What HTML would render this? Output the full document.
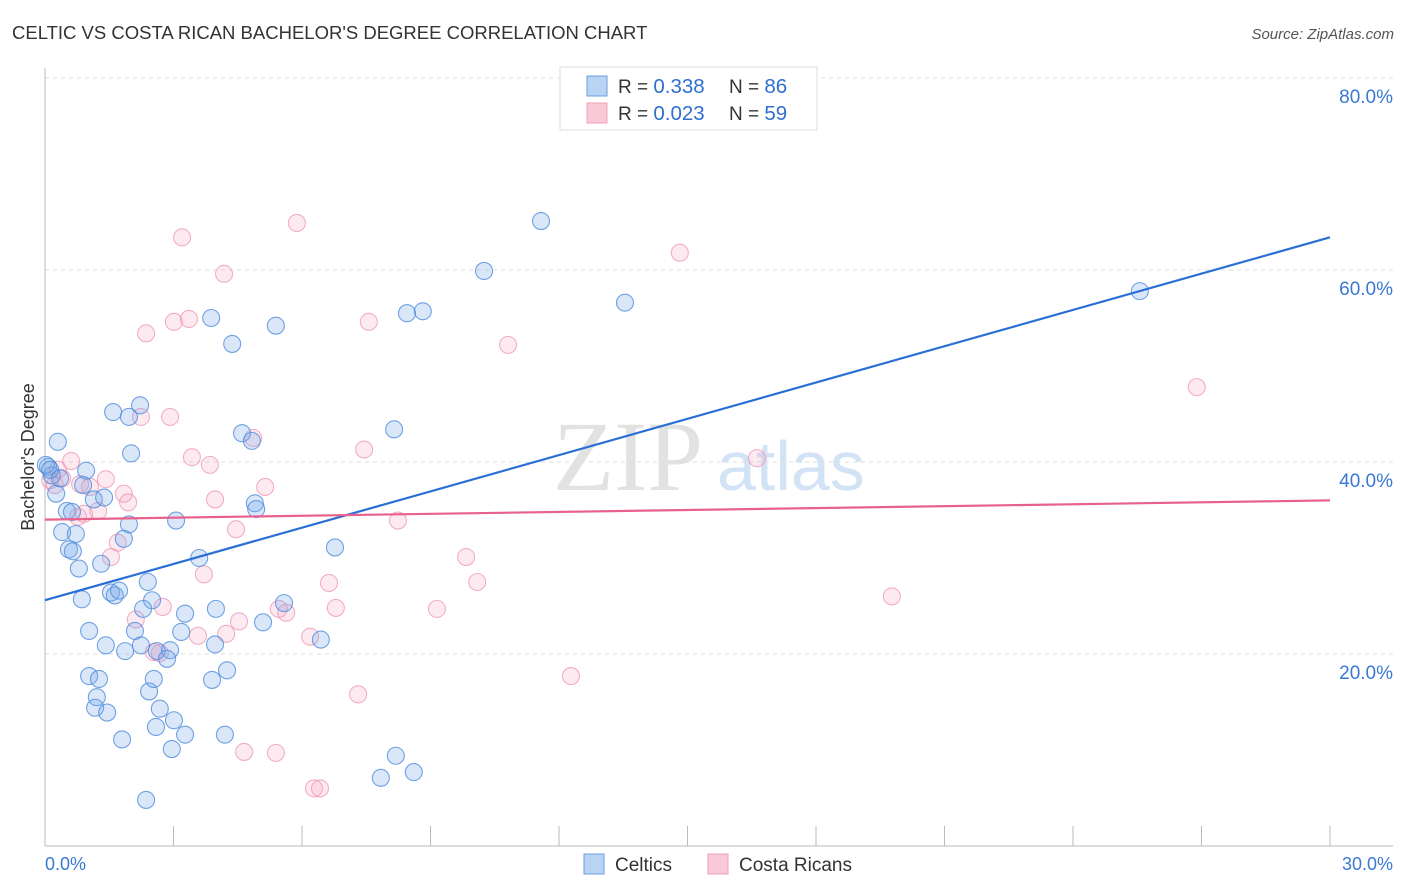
<!DOCTYPE html>
<html><head><meta charset="utf-8"><style>
body{margin:0;background:#fff;font-family:"Liberation Sans",sans-serif}
svg{display:block}
</style></head><body>
<svg id="chart" width="1406" height="892">
<text x="12" y="39" font-size="18.5" fill="#333">CELTIC VS COSTA RICAN BACHELOR'S DEGREE CORRELATION CHART</text>
<text x="1394" y="39" font-size="15" fill="#555" font-style="italic" text-anchor="end">Source: ZipAtlas.com</text>
<text x="553" y="490" font-size="100" fill="#e2e2e2" font-family="Liberation Serif,serif">ZIP</text>
<text x="717" y="490" font-size="70" fill="#d3e3f6">atlas</text>
<g id="grid"></g>
<g id="axes"></g>
<g id="points"></g>
<g id="lines"></g>
<text transform="translate(34,457) rotate(-90)" font-size="18" fill="#333" text-anchor="middle">Bachelor's Degree</text>
<text x="45" y="870" font-size="18" fill="#3a78d4">0.0%</text>
<text x="1393" y="870" font-size="18" fill="#3a78d4" text-anchor="end">30.0%</text>
<g>
<rect x="560" y="67" width="257" height="63" fill="#fff" stroke="#ddd"/>
<rect x="587" y="76" width="20" height="20" fill="#b9d3f5" stroke="#6a9fe2"/>
<rect x="587" y="103" width="20" height="20" fill="#f9c9d8" stroke="#f0a0b8"/>
<text x="618" y="93" font-size="19" fill="#333">R = <tspan fill="#2f6fd0" font-size="20.5">0.338</tspan><tspan x="729">N = </tspan><tspan fill="#2f6fd0" font-size="20.5">86</tspan></text>
<text x="618" y="120" font-size="19" fill="#333">R = <tspan fill="#2f6fd0" font-size="20.5">0.023</tspan><tspan x="729">N = </tspan><tspan fill="#2f6fd0" font-size="20.5">59</tspan></text>
</g>
<g>
<rect x="584" y="854" width="20" height="20" fill="#b9d3f5" stroke="#6a9fe2"/>
<text x="615" y="871" font-size="19" fill="#333">Celtics</text>
<rect x="708" y="854" width="20" height="20" fill="#f9c9d8" stroke="#f0a0b8"/>
<text x="739" y="871" font-size="19" fill="#333">Costa Ricans</text>
</g>
</svg>
<script>
const yTicks=[20,40,60,80];
const yTickLabels=["20.0%","40.0%","60.0%","80.0%"];
const xTicks=[3,6,9,12,15,18,21,24,27,30];
const celticX=[11.58,10.25,25.56,13.54,8.82,8.45,3.88,5.39,4.37,2.22,1.59,1.96,4.60,4.83,8.15,0.30,2.01,0.96,0.07,0.16,0.26,0.89,1.14,1.38,0.51,0.63,0.40,0.72,1.96,3.06,1.84,0.56,0.65,1.31,0.79,3.60,6.77,4.90,4.93,0.86,1.54,1.63,1.73,2.40,2.50,2.29,3.27,3.99,5.58,5.09,1.03,1.42,2.10,3.18,1.87,2.24,2.61,2.92,2.85,3.97,6.44,4.25,3.90,1.03,1.26,1.21,1.17,1.45,2.43,2.54,2.68,3.01,2.59,3.27,1.80,2.96,4.20,8.19,7.84,8.61,2.36,0.02,0.12,0.35];
const celticY=[65.1,59.9,57.8,56.6,55.7,55.5,55.0,54.2,52.3,45.9,45.2,44.7,43.0,42.2,43.4,42.1,40.9,39.1,39.5,38.6,36.7,37.6,36.1,36.3,34.9,34.8,32.7,32.5,33.5,33.9,32.0,30.9,30.7,29.4,28.9,30.0,31.1,35.7,35.1,25.7,26.4,26.1,26.6,27.5,25.6,24.7,24.2,24.7,25.3,23.3,22.4,20.9,22.4,22.3,20.3,20.9,20.3,20.4,19.5,21.0,21.5,18.3,17.3,17.7,17.4,15.5,14.4,13.9,16.1,17.4,14.3,13.1,12.4,11.6,11.1,10.1,11.6,9.4,7.1,7.7,4.8,39.7,39.2,38.3];
const costaX=[5.88,3.20,14.82,4.18,3.36,3.01,2.36,7.56,10.81,26.89,2.92,2.24,4.86,7.45,3.43,3.85,16.62,0.61,0.30,1.42,0.40,0.12,0.23,0.82,1.05,5.14,1.84,1.94,3.97,1.24,0.91,0.77,8.24,4.46,1.70,1.54,9.83,3.71,6.63,10.09,2.75,2.12,5.46,5.63,6.79,9.15,19.77,3.57,4.23,4.53,6.19,2.54,2.68,12.28,7.31,4.65,5.39,6.28,6.42];
const costaY=[64.9,63.4,61.8,59.6,54.9,54.6,53.4,54.6,52.2,47.8,44.7,44.7,42.5,41.3,40.5,39.7,40.4,40.1,39.2,38.2,38.3,38.1,37.6,37.7,37.4,37.4,36.7,35.8,36.1,34.9,34.6,34.3,33.9,33.0,31.6,30.1,30.1,28.3,27.4,27.5,24.9,23.6,24.7,24.3,24.8,24.7,26.0,21.9,22.1,23.4,21.8,20.2,20.1,17.7,15.8,9.8,9.7,6.0,6.0];
const celticTrend=[25.6,63.4];
const costaTrend=[34.0,36.0];
const trendX=[0,30];

const NS="http://www.w3.org/2000/svg";
const X0=45,X1=1330,Y0=846,PPY=9.6;
function sx(v){return X0+(X1-X0)*v/30;}
function sy(v){return Y0-v*PPY;}
function mk(tag,attrs,parent){const e=document.createElementNS(NS,tag);for(const k in attrs)e.setAttribute(k,attrs[k]);parent.appendChild(e);return e;}
const grid=document.getElementById('grid'),axes=document.getElementById('axes'),pts=document.getElementById('points'),lines=document.getElementById('lines');
yTicks.forEach((t,i)=>{
 const l=mk('line',{x1:X0,x2:1393,y1:sy(t),y2:sy(t),stroke:'#ddd','stroke-dasharray':'4,4'},grid);
 
 
 const tx=mk('text',{x:1393,y:sy(t)+25,'font-size':19,fill:'#3a78d4','text-anchor':'end'},grid);
 tx.textContent=yTickLabels[i];
 
 
});
const ya=mk('line',{x1:X0,x2:X0,y1:68,y2:Y0,stroke:'#bbb'},axes);


const xa=mk('line',{x1:X0,x2:1393,y1:Y0,y2:Y0,stroke:'#bbb'},axes);


xTicks.forEach(t=>{
 const l=mk('line',{x1:sx(t),x2:sx(t),y1:826,y2:Y0,stroke:'#bbb'},axes);
 
 
});
costaX.forEach((v,i)=>{
 const c=mk('circle',{cx:sx(v),cy:sy(costaY[i]),r:8.5,fill:'rgba(244,160,190,0.22)',stroke:'rgba(238,150,180,0.75)','stroke-width':1.1},pts);
 
 
});
celticX.forEach((v,i)=>{
 const c=mk('circle',{cx:sx(v),cy:sy(celticY[i]),r:8.5,fill:'rgba(120,170,235,0.28)',stroke:'rgba(80,140,220,0.8)','stroke-width':1.1},pts);
 
 
});
const bl=mk('line',{x1:sx(trendX[0]),y1:sy(celticTrend[0]),x2:sx(trendX[1]),y2:sy(celticTrend[1]),stroke:'#2a6fd6','stroke-width':2.2},lines);


const pl=mk('line',{x1:sx(trendX[0]),y1:sy(costaTrend[0]),x2:sx(trendX[1]),y2:sy(costaTrend[1]),stroke:'#e8608c','stroke-width':2.2},lines);


</script>
</body></html>
